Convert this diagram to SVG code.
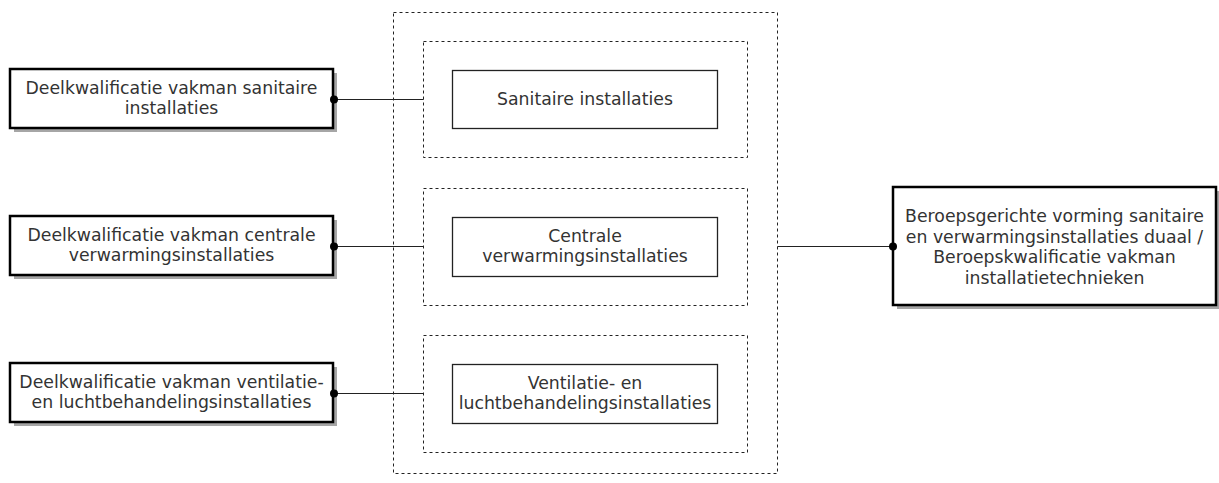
<svg xmlns="http://www.w3.org/2000/svg" width="1219" height="483" viewBox="0 0 1219 483">
<defs>
<style>
.bg{fill:#ffffff}
.shadow{fill:#a6a6a6}
.thick{fill:#ffffff;stroke:#000000;stroke-width:2.5}
.inner{fill:#ffffff;stroke:#222222;stroke-width:1.3}
.dash{fill:none;stroke:#222222;stroke-width:1;stroke-dasharray:3 3}
.conn{fill:none;stroke:#222222;stroke-width:1}
.dot{fill:#000000}
text{font-family:"DejaVu Sans",Verdana,sans-serif;font-size:17.3px;fill:#333333;text-anchor:middle}
</style>
</defs>
<rect class="bg" x="0" y="0" width="1219" height="483"/>
<g id="outer-group">
<rect class="dash" x="393.5" y="12.5" width="384" height="461"/>
</g>
<g id="group-sanitair">
<rect class="dash" x="423.5" y="41.5" width="324" height="116"/>
</g>
<g id="group-verwarming">
<rect class="dash" x="423.5" y="188.5" width="324" height="117"/>
</g>
<g id="group-ventilatie">
<rect class="dash" x="423.5" y="335.5" width="324" height="117"/>
</g>
<g id="node-dk-sanitair">
<rect class="shadow" x="14" y="73" width="323" height="59"/>
<rect class="thick" x="10" y="69" width="323" height="59"/>
<text x="171.5" y="94">Deelkwalificatie vakman sanitaire</text>
<text x="171.5" y="114">installaties</text>
</g>
<g id="node-dk-verwarming">
<rect class="shadow" x="14" y="220" width="323" height="59"/>
<rect class="thick" x="10" y="216" width="323" height="59"/>
<text x="171.5" y="241">Deelkwalificatie vakman centrale</text>
<text x="171.5" y="261">verwarmingsinstallaties</text>
</g>
<g id="node-dk-ventilatie">
<rect class="shadow" x="14" y="367" width="323" height="59"/>
<rect class="thick" x="10" y="363" width="323" height="59"/>
<text x="171.5" y="388">Deelkwalificatie vakman ventilatie-</text>
<text x="171.5" y="408">en luchtbehandelingsinstallaties</text>
</g>
<g id="node-sanitair">
<rect class="inner" x="452.5" y="70.5" width="265" height="58"/>
<text x="585" y="105">Sanitaire installaties</text>
</g>
<g id="node-verwarming">
<rect class="inner" x="452.5" y="217.5" width="265" height="59"/>
<text x="585" y="242">Centrale</text>
<text x="585" y="262">verwarmingsinstallaties</text>
</g>
<g id="node-ventilatie">
<rect class="inner" x="452.5" y="364.5" width="265" height="59"/>
<text x="585" y="389">Ventilatie- en</text>
<text x="585" y="409">luchtbehandelingsinstallaties</text>
</g>
<g id="node-beroep">
<rect class="shadow" x="897" y="191" width="322" height="118"/>
<rect class="thick" x="893" y="187" width="323" height="118"/>
<text x="1054.5" y="222">Beroepsgerichte vorming sanitaire</text>
<text x="1054.5" y="242.5">en verwarmingsinstallaties duaal /</text>
<text x="1054.5" y="263">Beroepskwalificatie vakman</text>
<text x="1054.5" y="283.5">installatietechnieken</text>
</g>
<g id="connectors">
<line class="conn" x1="334" y1="99.5" x2="423.5" y2="99.5"/>
<circle class="dot" cx="334" cy="99.5" r="4"/>
<line class="conn" x1="334" y1="246.5" x2="423.5" y2="246.5"/>
<circle class="dot" cx="334" cy="246.5" r="4"/>
<line class="conn" x1="334" y1="393.5" x2="423.5" y2="393.5"/>
<circle class="dot" cx="334" cy="393.5" r="4"/>
<line class="conn" x1="777.5" y1="246.5" x2="893" y2="246.5"/>
<circle class="dot" cx="893" cy="246.5" r="4"/>
</g>
</svg>
